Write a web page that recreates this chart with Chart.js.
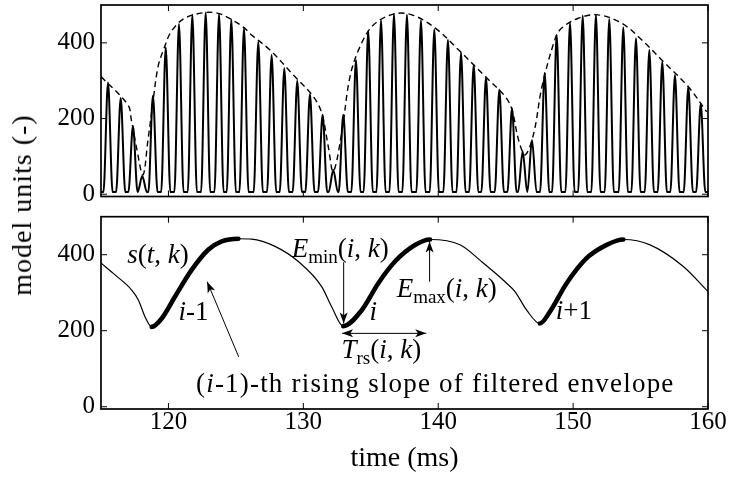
<!DOCTYPE html>
<html><head><meta charset="utf-8">
<script src="https://cdn.jsdelivr.net/npm/chart.js@4.4.0/dist/chart.umd.min.js"></script>
<style>
html,body{margin:0;padding:0;background:#fff;}
#wrap{position:relative;width:730px;height:478px;overflow:hidden;background:#fff;}
#top{position:absolute;left:0;top:0;width:730px;height:210px;}
#bot{position:absolute;left:0;top:200px;width:730px;height:278px;}
#ylab{position:absolute;left:22px;top:205px;transform:translate(-50%,-50%) rotate(-90deg);font-family:'Liberation Serif',serif;font-size:28px;letter-spacing:1px;white-space:nowrap;color:#000;}
</style></head>
<body>
<div id="wrap">
<canvas id="top" width="730" height="210"></canvas>
<canvas id="bot" width="730" height="278"></canvas>
<div id="ylab">model units (-)</div>
</div>
<script>
// ---------- data ----------
const xTicks = [120, 130, 140, 150, 160];
const yTicks = [0, 200, 400];

// top panel: pulse peaks (time ms, amplitude)
const pulseTimes = [115.52,116.46,117.37,118.06,118.85,119.80,120.78,121.77,122.76,123.75,124.66,125.60,
  126.66,127.65,128.59,129.55,130.49,131.43,132.22,132.96,133.90,134.81,135.76,136.72,
  137.68,138.72,139.71,140.72,141.69,142.63,143.54,144.53,145.47,146.26,146.95,147.89,
  148.78,149.77,150.71,151.69,152.68,153.72,154.66,155.65,156.61,157.55,158.54,159.46];
const pulsePeaks = [295,254,180,48,260,388,450,474,480,476,462,439,
  403,368,333,300,264,210,64,210,355,432,460,476,
  474,460,436,408,374,342,309,276,227,113,143,320,
  421,453,472,474,463,441,412,381,350,315,284,240];
const pulseTrough = 6;

// top panel: dashed envelope
const envTimes = [115.0,117.0,117.25,117.62,118.11,118.48,118.78,119.23,119.72,120.21,121.2,122.69,123.68,124.66,125.65,126.05,
  127.53,129.26,130.74,131.36,131.85,132.22,132.84,133.46,134.2,135.19,136.67,138.05,139.78,141.52,143.49,144.97,
  145.47,145.96,146.45,147.08,147.69,148.68,149.15,150.38,151.86,153.6,155.08,156.81,158.54,159.9];
const envValues = [311,236,196,126,51,143,223,337,390,430,465,480,478,462,439,424,
  381,315,258,215,126,60,161,311,390,447,476,474,439,381,311,258,
  223,143,104,161,284,412,439,465,474,452,408,346,284,218];

// bottom panel: filtered envelope s(t,k)
const sTimes = [115.0,116.04,117.28,117.77,118.26,118.76,119.50,120.49,121.72,122.95,123.95,125.18,126.17,127.90,129.63,
  131.36,132.10,132.96,134.33,135.56,136.79,138.31,139.39,141.61,143.34,145.07,145.69,146.56,147.54,148.28,
  149.52,151.0,152.49,153.72,155.70,158.17,160.0];
const sValues = [378,347,307,281,237,210,232,290,360,413,435,442,441,422,382,
  316,263,212,254,325,382,426,440,426,378,325,303,254,219,250,
  325,391,426,440,426,369,303];
const risingStart = [118.76, 132.96, 147.54];
const risingEnd   = [125.18, 139.39, 153.72];

// annotations (data coordinates of bottom panel)
const annTexts = [
  {t:119.22, v:379, parts:[['s','i'],['(','r'],['t','i'],[', ','r'],['k','i'],[')','r']]},
  {t:121.85, v:228, parts:[['i','i'],['-1','r']]},
  {t:132.74, v:395, parts:[['E','i'],['min','s'],['(','r'],['i','i'],[', ','r'],['k','i'],[')','r']]},
  {t:135.19, v:228, parts:[['i','i']]},
  {t:135.78, v:127, parts:[['T','i'],['rs','s'],['(','r'],['i','i'],[', ','r'],['k','i'],[')','r']]},
  {t:140.63, v:289, parts:[['E','i'],['max','s'],['(','r'],['i','i'],[', ','r'],['k','i'],[')','r']]},
  {t:150.05, v:230, parts:[['i','i'],['+1','r']]},
  {t:139.78, v:40, parts:[['(','r'],['i','i'],['-1)-th rising slope of filtered envelope','r']], spacing:1.2}
];
const annArrows = [
  {from:[132.99,380], to:[132.99,219]},
  {from:[139.36,329], to:[139.36,435]},
  {from:[132.87,193], to:[139.11,193], both:true},
  {from:[125.21,131], to:[122.87,329]}
];

// ---------- styles ----------
const FONT = "'Liberation Serif', serif";
const pulseHalfWidth = 0.34;
const xMin = 115, xMax = 160, yMin = -6, yMax = 500;

Chart.defaults.font.family = FONT;
Chart.defaults.color = '#000';

// build point tables from the arrays
const pulsePts = [{x: xMin, y: pulseTrough}];
pulseTimes.forEach((t, i) => {
  pulsePts.push({x: t - pulseHalfWidth, y: pulseTrough}, {x: t, y: pulsePeaks[i]}, {x: t + pulseHalfWidth, y: pulseTrough});
});
pulsePts.push({x: xMax, y: pulseTrough});
const envPts = envTimes.map((t, i) => ({x: t, y: envValues[i]}));
const sPts = sTimes.map((t, i) => ({x: t, y: sValues[i]}));
const inRising = t => risingStart.some((s, k) => t >= s - 1e-6 && t <= risingEnd[k] + 1e-6);

const framePlugin = {
  id: 'frame',
  afterDatasetsDraw(chart) {
    const {ctx, chartArea: a, scales} = chart;
    const xs = scales.x, ys = scales.y;
    ctx.save();
    ctx.strokeStyle = '#000';
    ctx.lineWidth = 1;
    ctx.beginPath();
    xTicks.forEach(v => {
      const p = xs.getPixelForValue(v);
      ctx.moveTo(p, a.bottom); ctx.lineTo(p, a.bottom - 6);
      ctx.moveTo(p, a.top); ctx.lineTo(p, a.top + 6);
    });
    yTicks.forEach(v => {
      const p = ys.getPixelForValue(v);
      ctx.moveTo(a.left, p); ctx.lineTo(a.left + 6, p);
      ctx.moveTo(a.right, p); ctx.lineTo(a.right - 6, p);
    });
    ctx.stroke();
    ctx.lineWidth = 1.7;
    ctx.strokeRect(a.left, a.top, a.right - a.left, a.bottom - a.top);
    ctx.restore();
  }
};

function drawRich(ctx, parts, cx, baseY, size, spacing) {
  const fonts = {
    i: `italic ${size}px ${FONT}`,
    r: `${size}px ${FONT}`,
    s: `${Math.round(size * 0.7)}px ${FONT}`
  };
  if ('letterSpacing' in ctx) ctx.letterSpacing = (spacing || 0) + 'px';
  let w = 0;
  parts.forEach(([t, s]) => { ctx.font = fonts[s]; w += ctx.measureText(t).width; });
  let x = cx - w / 2;
  parts.forEach(([t, s]) => {
    ctx.font = fonts[s];
    ctx.fillText(t, x, s === 's' ? baseY + size * 0.22 : baseY);
    x += ctx.measureText(t).width;
  });
  if ('letterSpacing' in ctx) ctx.letterSpacing = '0px';
}

function arrowHead(ctx, x1, y1, x2, y2, len, hw) {
  const ang = Math.atan2(y2 - y1, x2 - x1);
  const c = Math.cos(ang), s = Math.sin(ang);
  ctx.beginPath();
  ctx.moveTo(x2, y2);
  ctx.lineTo(x2 - len * c + hw * s, y2 - len * s - hw * c);
  ctx.lineTo(x2 - len * 0.75 * c, y2 - len * 0.75 * s);
  ctx.lineTo(x2 - len * c - hw * s, y2 - len * s + hw * c);
  ctx.closePath();
  ctx.fill();
}

const annPlugin = {
  id: 'ann',
  afterDatasetsDraw(chart) {
    const {ctx, scales: {x, y}} = chart;
    ctx.save();
    ctx.fillStyle = '#000';
    ctx.strokeStyle = '#000';
    ctx.textBaseline = 'alphabetic';
    ctx.textAlign = 'left';
    annTexts.forEach(l => drawRich(ctx, l.parts, x.getPixelForValue(l.t), y.getPixelForValue(l.v), 27, l.spacing));
    annArrows.forEach(a => {
      const x1 = x.getPixelForValue(a.from[0]), y1 = y.getPixelForValue(a.from[1]);
      const x2 = x.getPixelForValue(a.to[0]), y2 = y.getPixelForValue(a.to[1]);
      ctx.lineWidth = 1;
      ctx.beginPath(); ctx.moveTo(x1, y1); ctx.lineTo(x2, y2); ctx.stroke();
      arrowHead(ctx, x1, y1, x2, y2, 11, 4);
      if (a.both) arrowHead(ctx, x2, y2, x1, y1, 11, 4);
    });
    ctx.restore();
  }
};

function yScale() {
  return {
    type: 'linear', min: yMin, max: yMax,
    grid: {display: false, drawTicks: false},
    border: {display: false},
    ticks: {font: {size: 25}, color: '#000', padding: 6},
    afterBuildTicks: s => { s.ticks = yTicks.map(v => ({value: v})); },
    afterFit: s => { s.width = 101; s.paddingTop = 0; s.paddingBottom = 0; }
  };
}

new Chart(document.getElementById('top'), {
  type: 'line',
  data: {datasets: [
    {data: envPts, borderColor: '#000', borderWidth: 1.4, borderDash: [6, 4], tension: 0.35, pointRadius: 0, fill: false},
    {data: pulsePts, borderColor: '#000', borderWidth: 2.0, cubicInterpolationMode: 'monotone', pointRadius: 0, fill: false}
  ]},
  options: {
    responsive: false, animation: false, events: [],
    layout: {padding: {left: 0, top: 5, right: 22, bottom: 13.5}},
    plugins: {legend: {display: false}, tooltip: {enabled: false}},
    scales: {
      x: {type: 'linear', min: xMin, max: xMax, display: false,
          afterBuildTicks: s => { s.ticks = xTicks.map(v => ({value: v})); }},
      y: yScale()
    }
  },
  plugins: [framePlugin]
});

new Chart(document.getElementById('bot'), {
  type: 'line',
  data: {datasets: [
    {data: sPts, borderColor: '#000', borderWidth: 1.2, cubicInterpolationMode: 'monotone', pointRadius: 0, fill: false,
     borderCapStyle: 'round',
     segment: {borderWidth: c => (inRising(c.p0.parsed.x) && inRising(c.p1.parsed.x)) ? 4.6 : 1.2}}
  ]},
  options: {
    responsive: false, animation: false, events: [],
    layout: {padding: {left: 0, top: 16.7, right: 22, bottom: 0}},
    plugins: {legend: {display: false}, tooltip: {enabled: false}},
    scales: {
      x: {type: 'linear', min: xMin, max: xMax,
          grid: {display: false, drawTicks: false},
          border: {display: false},
          ticks: {font: {size: 25}, color: '#000', padding: -2, maxRotation: 0, autoSkip: false},
          title: {display: true, text: 'time (ms)', font: {size: 28}, color: '#000', padding: {top: 0, bottom: 3}},
          afterBuildTicks: s => { s.ticks = xTicks.map(v => ({value: v})); },
          afterFit: s => { s.height = 69; s.paddingLeft = 0; s.paddingRight = 0; }},
      y: yScale()
    }
  },
  plugins: [framePlugin, annPlugin]
});
</script>
</body></html>
